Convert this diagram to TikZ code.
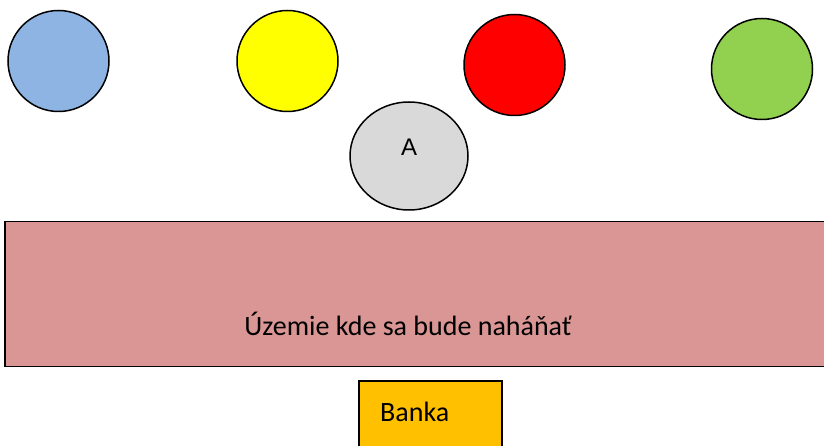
\documentclass[tikz,border=0pt]{standalone}
\usepackage{fontspec}
\usetikzlibrary{shapes.geometric}
\setmainfont{Carlito}
\newfontfamily\arialfont{Liberation Sans}
\definecolor{cblue}{HTML}{8EB4E3}
\definecolor{cyellow}{HTML}{FFFF00}
\definecolor{cred}{HTML}{FF0000}
\definecolor{cgreen}{HTML}{92D050}
\definecolor{cgray}{HTML}{D9D9D9}
\definecolor{cpink}{HTML}{D99694}
\definecolor{corange}{HTML}{FFC000}
\begin{document}
\begin{tikzpicture}[x=1pt,y=-1pt,
  ball/.style={circle,draw=black,line width=1.5pt,minimum size=101pt,inner sep=0pt},
  box/.style={rectangle,draw=black,line width=1.5pt,inner sep=0pt},
  lbl/.style={font=\fontsize{28}{30}\selectfont,inner sep=0pt}]
\useasboundingbox (0,0) rectangle (824,446);
\fill[white] (0,0) rectangle (824,446);
\node[ball,fill=cblue] (blue) at (58.5,61) {};
\node[ball,fill=cyellow] (yellow) at (287.5,61) {};
\node[ball,fill=cred] (red) at (514.5,65) {};
\node[ball,fill=cgreen] (green) at (762,69) {};
\node[ellipse,draw=black,line width=1.5pt,fill=cgray,minimum width=118pt,minimum height=108pt,inner sep=0pt] (a) at (409,156) {};
\node[font=\arialfont\fontsize{24}{26}\selectfont,inner sep=0pt] (atext) at (409,147) {A};
\node[box,fill=cpink,minimum width=822pt,minimum height=145pt] (zone) at (416,294) {};
\node[lbl] (zonetext) at (408,324) {Územie kde sa bude naháňať};
\node[box,fill=corange,minimum width=143pt,minimum height=70pt] (bank) at (430.5,416) {};
\node[lbl,anchor=west] (banktext) at (380,412) {Banka};
\end{tikzpicture}
\end{document}
